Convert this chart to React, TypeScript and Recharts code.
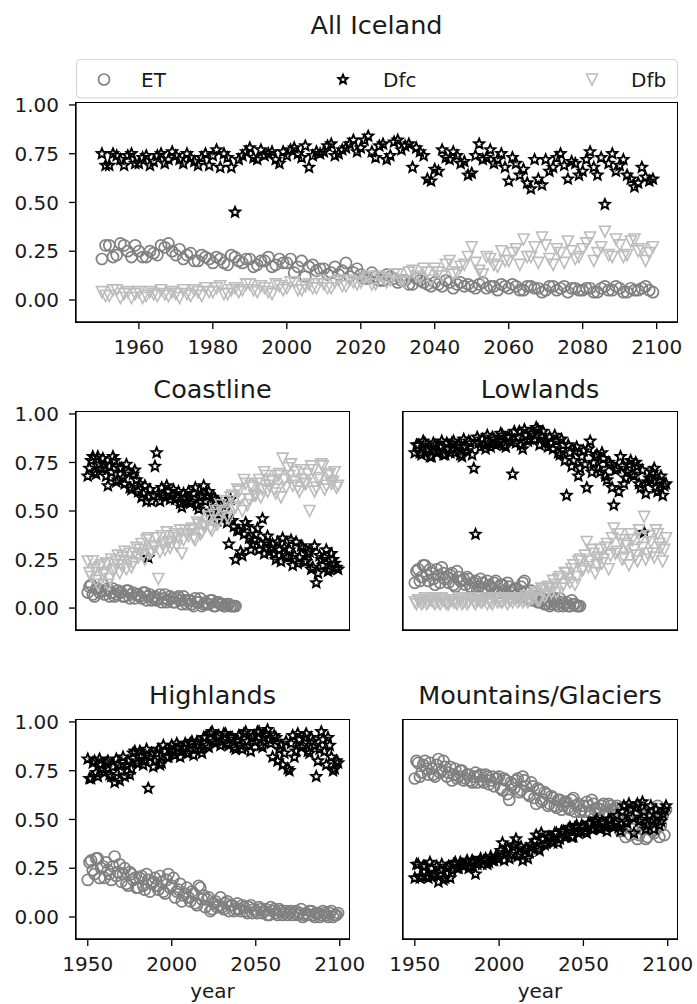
import React from 'react';
import { ScatterChart, Scatter, XAxis, YAxis } from 'recharts';

// x positions: one ensemble member on even years, the other on odd years
const YEARS_EVEN = [
  1950, 1952, 1954, 1956, 1958, 1960, 1962, 1964, 1966, 1968,
  1970, 1972, 1974, 1976, 1978, 1980, 1982, 1984, 1986, 1988,
  1990, 1992, 1994, 1996, 1998, 2000, 2002, 2004, 2006, 2008,
  2010, 2012, 2014, 2016, 2018, 2020, 2022, 2024, 2026, 2028,
  2030, 2032, 2034, 2036, 2038, 2040, 2042, 2044, 2046, 2048,
  2050, 2052, 2054, 2056, 2058, 2060, 2062, 2064, 2066, 2068,
  2070, 2072, 2074, 2076, 2078, 2080, 2082, 2084, 2086, 2088,
  2090, 2092, 2094, 2096, 2098,
];
const YEARS_ODD = [
  1951, 1953, 1955, 1957, 1959, 1961, 1963, 1965, 1967, 1969,
  1971, 1973, 1975, 1977, 1979, 1981, 1983, 1985, 1987, 1989,
  1991, 1993, 1995, 1997, 1999, 2001, 2003, 2005, 2007, 2009,
  2011, 2013, 2015, 2017, 2019, 2021, 2023, 2025, 2027, 2029,
  2031, 2033, 2035, 2037, 2039, 2041, 2043, 2045, 2047, 2049,
  2051, 2053, 2055, 2057, 2059, 2061, 2063, 2065, 2067, 2069,
  2071, 2073, 2075, 2077, 2079, 2081, 2083, 2085, 2087, 2089,
  2091, 2093, 2095, 2097, 2099,
];

const TOP_TICKS = [1960, 1980, 2000, 2020, 2040, 2060, 2080, 2100];
const BOTTOM_TICKS = [1950, 2000, 2050, 2100];
const Y_TICKS = [0, 0.25, 0.5, 0.75, 1];

// values are area fractions in percent
// All Iceland
const ALL_ET_A = [
  21, 28, 23, 28, 22, 25, 22, 24, 28, 29, 23, 21, 24, 20, 22,
  19, 21, 18, 22, 19, 21, 18, 20, 17, 21, 19, 14, 20, 17, 15,
  16, 14, 13, 19, 14, 13, 11, 12, 10, 12, 9, 10, 8, 10, 8,
  9, 7, 9, 8, 7, 7, 8, 6, 7, 8, 6, 7, 5, 7, 6,
  5, 7, 6, 4, 6, 5, 6, 4, 7, 5, 6, 4, 5, 6, 5,
];
const ALL_ET_B = [
  28, 22, 29, 25, 28, 22, 25, 23, 27, 25, 26, 23, 20, 23, 21,
  22, 19, 23, 20, 21, 17, 20, 22, 18, 19, 21, 17, 12, 18, 16,
  13, 17, 15, 12, 16, 11, 14, 10, 13, 11, 10, 8, 11, 9, 7,
  8, 10, 6, 9, 8, 6, 9, 7, 5, 7, 8, 5, 7, 6, 4,
  7, 5, 7, 6, 5, 6, 4, 6, 5, 7, 4, 6, 5, 7, 4,
];
const ALL_DFC_A = [
  75, 69, 74, 69, 75, 70, 74, 71, 75, 72, 74, 70, 73, 69, 75,
  74, 68, 73, 45, 74, 78, 72, 74, 76, 70, 74, 78, 73, 68, 76,
  76, 80, 75, 78, 82, 78, 84, 73, 80, 74, 82, 79, 68, 76, 62,
  67, 77, 72, 74, 71, 65, 80, 73, 70, 75, 61, 70, 67, 57, 62,
  72, 68, 75, 62, 70, 66, 76, 64, 49, 75, 69, 64, 58, 68, 61,
];
const ALL_DFC_B = [
  69, 75, 72, 74, 70, 73, 69, 74, 70, 76, 72, 75, 71, 73, 69,
  77, 75, 68, 72, 76, 73, 77, 75, 72, 76, 77, 75, 79, 74, 75,
  79, 74, 77, 80, 76, 82, 76, 79, 72, 81, 77, 80, 78, 74, 61,
  66, 73, 76, 70, 64, 74, 72, 77, 72, 68, 73, 64, 60, 72, 59,
  66, 73, 69, 71, 64, 72, 68, 73, 70, 66, 72, 62, 60, 63, 62,
];
const ALL_DFB_A = [
  4, 2, 5, 3, 1, 4, 2, 3, 5, 2, 3, 5, 2, 4, 6,
  4, 7, 3, 6, 5, 8, 4, 6, 3, 7, 6, 9, 5, 8, 6,
  8, 6, 10, 7, 9, 9, 12, 8, 11, 10, 13, 9, 15, 11, 14,
  16, 12, 20, 14, 18, 27, 15, 22, 18, 25, 20, 26, 31, 22, 19,
  28, 18, 24, 30, 21, 26, 32, 24, 35, 22, 28, 23, 31, 26, 24,
];
const ALL_DFB_B = [
  2, 5, 1, 4, 3, 1, 4, 2, 3, 4, 1, 3, 5, 2, 4,
  6, 3, 5, 4, 8, 5, 7, 4, 8, 5, 9, 5, 7, 6, 10,
  6, 9, 7, 10, 8, 11, 8, 12, 9, 13, 10, 14, 12, 16, 10,
  14, 18, 13, 17, 22, 19, 13, 21, 17, 20, 24, 18, 22, 27, 32,
  21, 26, 19, 25, 22, 29, 20, 27, 23, 31, 22, 30, 25, 20, 27,
];

// Coastline
const COAST_ET_A = [
  8, 12, 6, 10, 9, 7, 10, 8, 6, 9, 8, 6, 9, 7, 5,
  7, 5, 8, 6, 4, 6, 5, 3, 7, 4, 5, 3, 6, 2, 4,
  4, 2, 5, 3, 1, 3, 2, 4, 1, 3, 2, 1, 2, 1, 1,
];
const COAST_ET_B = [
  11, 7, 10, 8, 12, 9, 6, 10, 7, 8, 6, 9, 5, 8, 7,
  6, 8, 4, 7, 5, 4, 7, 5, 3, 6, 3, 5, 4, 6, 2,
  4, 1, 3, 5, 2, 2, 4, 1, 3, 2, 1, 2, 1, 1,
];
const COAST_DFC_A = [
  68, 76, 70, 78, 72, 74, 63, 70, 76, 66, 72, 64, 70, 61, 71,
  60, 57, 63, 26, 55, 73, 59, 62, 57, 60, 58, 56, 60, 52, 57,
  60, 55, 62, 51, 58, 55, 60, 48, 56, 52, 47, 54, 33, 45, 25,
  40, 27, 44, 36, 33, 38, 30, 46, 34, 29, 33, 25, 30, 36, 27,
  30, 22, 34, 26, 31, 24, 29, 21, 13, 27, 22, 30, 20, 25, 21,
];
const COAST_DFC_B = [
  72, 78, 69, 74, 77, 68, 73, 78, 65, 72, 67, 74, 62, 69, 66,
  64, 59, 55, 61, 58, 80, 55, 58, 63, 56, 61, 57, 54, 59, 55,
  54, 59, 53, 57, 63, 58, 50, 57, 45, 54, 50, 44, 56, 42, 40,
  29, 38, 42, 30, 35, 41, 33, 28, 37, 31, 28, 34, 24, 31, 26,
  35, 27, 23, 32, 24, 28, 20, 32, 18, 25, 26, 19, 28, 23, 20,
];
const COAST_DFB_A = [
  24, 16, 20, 12, 22, 18, 12, 25, 20, 27, 22, 29, 24, 21, 28,
  26, 33, 25, 36, 29, 31, 15, 37, 30, 34, 33, 38, 36, 28, 40,
  37, 41, 35, 43, 39, 42, 47, 40, 50, 45, 49, 55, 46, 58, 52,
  60, 50, 64, 56, 62, 58, 66, 61, 68, 63, 65, 59, 69, 77, 62,
  68, 63, 70, 60, 66, 64, 50, 71, 62, 67, 73, 63, 69, 65, 62,
];
const COAST_DFB_B = [
  18, 24, 14, 21, 17, 23, 15, 19, 24, 18, 26, 20, 28, 23, 31,
  30, 27, 35, 28, 32, 36, 29, 33, 39, 31, 37, 32, 40, 35, 38,
  40, 36, 44, 38, 42, 45, 41, 48, 43, 53, 50, 47, 57, 51, 61,
  56, 66, 53, 63, 58, 64, 57, 70, 60, 66, 61, 68, 57, 66, 72,
  74, 65, 62, 71, 64, 69, 73, 60, 66, 74, 61, 68, 64, 70, 63,
];

// Lowlands
const LOW_ET_A = [
  13, 20, 16, 22, 14, 18, 12, 17, 21, 15, 13, 18, 11, 16, 14,
  12, 15, 10, 14, 11, 13, 9, 12, 10, 14, 8, 12, 7, 11, 9,
  10, 6, 13, 8, 5, 4, 6, 3, 5, 2, 1, 4, 2, 5, 1,
  3, 1, 2, 1, 1,
];
const LOW_ET_B = [
  19, 14, 22, 17, 20, 15, 20, 13, 18, 16, 17, 12, 19, 14, 15,
  16, 11, 13, 9, 15, 10, 14, 11, 13, 8, 12, 9, 13, 8, 10,
  7, 11, 14, 5, 9, 6, 3, 5, 2, 4, 2, 5, 1, 3, 2,
  1, 4, 2, 1,
];
const LOW_DFC_A = [
  80, 84, 79, 85, 82, 78, 84, 81, 86, 79, 82, 85, 80, 84, 78,
  83, 86, 79, 38, 85, 87, 82, 85, 88, 84, 86, 89, 83, 88, 69,
  85, 91, 82, 89, 87, 90, 93, 84, 91, 86, 88, 82, 86, 79, 84,
  58, 80, 76, 83, 72, 81, 62, 86, 75, 79, 70, 77, 66, 74, 53,
  72, 78, 64, 70, 76, 68, 73, 62, 39, 65, 66, 72, 60, 68, 63,
];
const LOW_DFC_B = [
  84, 80, 86, 81, 78, 85, 80, 83, 79, 85, 80, 86, 83, 79, 87,
  81, 85, 72, 88, 83, 84, 89, 83, 87, 85, 90, 84, 88, 86, 91,
  88, 84, 92, 86, 90, 87, 92, 89, 85, 83, 85, 89, 80, 87, 76,
  84, 73, 81, 68, 78, 74, 82, 70, 78, 72, 80, 68, 75, 62, 71,
  60, 73, 67, 74, 69, 75, 64, 71, 59, 67, 70, 62, 66, 58, 64,
];
const LOW_DFB_A = [
  3, 4, 2, 5, 3, 4, 2, 3, 5, 3, 2, 4, 3, 5, 2,
  4, 3, 5, 2, 4, 3, 5, 4, 2, 5, 4, 3, 5, 4, 3,
  5, 4, 3, 6, 4, 5, 8, 4, 9, 7, 10, 14, 8, 16, 12,
  18, 13, 22, 16, 25, 20, 34, 24, 28, 22, 30, 25, 33, 27, 41,
  29, 35, 26, 32, 38, 30, 24, 36, 47, 28, 34, 26, 38, 31, 30,
];
const LOW_DFB_B = [
  2, 4, 3, 2, 4, 3, 5, 2, 4, 2, 4, 3, 2, 4, 3,
  2, 5, 3, 4, 3, 4, 2, 3, 5, 3, 3, 5, 2, 4, 5,
  3, 5, 4, 3, 6, 7, 4, 10, 6, 11, 8, 12, 15, 10, 18,
  15, 20, 12, 24, 19, 27, 21, 30, 18, 26, 23, 31, 20, 36, 28,
  38, 25, 33, 22, 35, 27, 40, 31, 25, 37, 28, 40, 33, 24, 36,
];

// Highlands
const HIGH_ET_A = [
  19, 29, 22, 30, 25, 20, 24, 19, 31, 23, 18, 25, 16, 22, 20,
  15, 21, 14, 19, 17, 20, 14, 18, 12, 22, 16, 10, 14, 8, 12,
  10, 13, 7, 16, 9, 5, 10, 4, 8, 6, 5, 7, 3, 6, 4,
  4, 6, 3, 5, 2, 3, 5, 2, 4, 1, 3, 2, 4, 1, 3,
  2, 1, 3, 2, 0, 2, 3, 1, 2, 0, 3, 1, 2, 0, 1,
];
const HIGH_ET_B = [
  28, 24, 30, 20, 26, 28, 22, 26, 21, 27, 22, 17, 23, 19, 15,
  20, 16, 22, 13, 18, 16, 21, 13, 19, 15, 20, 13, 17, 11, 15,
  8, 12, 6, 15, 11, 9, 3, 7, 5, 10, 4, 8, 6, 3, 7,
  3, 5, 2, 6, 4, 2, 4, 3, 1, 5, 4, 1, 3, 2, 1,
  3, 2, 1, 4, 1, 1, 3, 0, 2, 1, 2, 0, 3, 1, 2,
];
const HIGH_DFC_A = [
  81, 71, 80, 72, 78, 74, 80, 72, 69, 78, 75, 72, 80, 76, 85,
  79, 83, 80, 66, 84, 80, 86, 79, 85, 82, 88, 83, 87, 85, 89,
  84, 90, 86, 88, 84, 92, 87, 95, 89, 93, 90, 94, 88, 92, 86,
  93, 86, 95, 88, 92, 90, 95, 87, 94, 91, 82, 92, 86, 78, 90,
  75, 93, 85, 91, 88, 94, 84, 90, 72, 86, 91, 78, 88, 75, 80,
];
const HIGH_DFC_B = [
  71, 79, 74, 81, 76, 79, 73, 77, 81, 70, 82, 78, 73, 84, 79,
  85, 78, 86, 82, 77, 84, 78, 88, 82, 86, 85, 89, 82, 87, 84,
  89, 83, 90, 86, 92, 88, 94, 90, 92, 88, 94, 89, 92, 87, 91,
  88, 94, 90, 85, 93, 95, 88, 92, 96, 89, 93, 80, 88, 84, 76,
  89, 82, 94, 87, 92, 85, 92, 88, 80, 95, 85, 92, 82, 76, 79,
];

// Mountains/Glaciers
const MOUNT_ET_A = [
  71, 79, 74, 80, 73, 76, 72, 81, 75, 77, 74, 70, 76, 72, 75,
  71, 73, 69, 74, 72, 70, 73, 68, 72, 71, 72, 65, 70, 60, 68,
  70, 64, 72, 67, 62, 67, 58, 65, 60, 63, 58, 61, 56, 60, 57,
  59, 55, 61, 57, 54, 57, 59, 54, 58, 56, 55, 58, 53, 57, 54,
  57, 44, 55, 50, 42, 52, 40, 56, 45, 41, 50, 43, 57, 47, 42,
];
const MOUNT_ET_B = [
  80, 72, 78, 76, 79, 73, 78, 74, 80, 72, 77, 73, 71, 75, 70,
  73, 70, 72, 69, 73, 69, 72, 70, 67, 71, 66, 71, 63, 69, 66,
  71, 65, 70, 63, 69, 61, 66, 59, 64, 57, 62, 57, 60, 55, 59,
  56, 60, 54, 58, 55, 54, 57, 60, 55, 53, 57, 54, 58, 55, 56,
  47, 56, 41, 52, 45, 55, 42, 50, 40, 48, 44, 54, 41, 52, 55,
];
const MOUNT_DFC_A = [
  20, 27, 21, 26, 20, 25, 22, 18, 27, 20, 26, 24, 28, 25, 27,
  27, 25, 29, 22, 28, 27, 30, 28, 29, 31, 30, 38, 33, 30, 36,
  40, 32, 29, 35, 33, 36, 42, 34, 40, 38, 41, 38, 43, 40, 44,
  42, 46, 41, 47, 44, 46, 43, 48, 45, 50, 45, 48, 44, 50, 46,
  52, 44, 57, 48, 55, 43, 58, 50, 54, 47, 57, 45, 52, 49, 55,
];
const MOUNT_DFC_B = [
  27, 20, 26, 21, 28, 21, 26, 24, 19, 25, 20, 27, 25, 28, 26,
  29, 26, 28, 27, 30, 29, 27, 31, 29, 30, 34, 29, 35, 32, 37,
  31, 36, 34, 30, 37, 39, 35, 43, 37, 41, 39, 43, 38, 44, 41,
  45, 41, 46, 43, 47, 44, 48, 45, 49, 46, 49, 46, 50, 47, 48,
  46, 54, 49, 58, 51, 56, 49, 59, 45, 52, 50, 55, 47, 53, 57,
];

const X_DOMAIN: [number, number] = [1943, 2105.5];
const Y_DOMAIN: [number, number] = [-0.113, 1.01];

const ET_COLOR = '#808080';
const DFC_COLOR = '#000000';
const DFB_COLOR = '#bcbcbc';
const TEXT = '#1a1a1a';

const build = (a: number[], b: number[]) => [
  ...a.map((v, i) => ({ x: YEARS_EVEN[i], y: v / 100 })),
  ...b.map((v, i) => ({ x: YEARS_ODD[i], y: v / 100 })),
];

function starPoints(cx: number, cy: number, R: number, r: number) {
  const pts: string[] = [];
  for (let i = 0; i < 10; i++) {
    const ang = -Math.PI / 2 + (i * Math.PI) / 5;
    const rad = i % 2 === 0 ? R : r;
    pts.push(`${cx + rad * Math.cos(ang)},${cy + rad * Math.sin(ang)}`);
  }
  return pts.join(' ');
}

const CircleMark = ({ x, y, rad }: { x: number; y: number; rad: number }) => (
  <circle cx={x} cy={y} r={rad} fill="none" stroke={ET_COLOR} strokeWidth={1.7} />
);

const StarMark = ({ x, y, rad }: { x: number; y: number; rad: number }) => (
  <polygon points={starPoints(x, y, rad, rad * 0.45)} fill="none" stroke={DFC_COLOR} strokeWidth={1.9} />
);

const TriMark = ({ x, y, rad }: { x: number; y: number; rad: number }) => (
  <polygon
    points={`${x},${y + rad} ${x - rad},${y - rad} ${x + rad},${y - rad}`}
    fill="none"
    stroke={DFB_COLOR}
    strokeWidth={1.6}
  />
);

const MARKS: Record<string, any> = { ET: CircleMark, Dfc: StarMark, Dfb: TriMark };
const MARK_SIZE: Record<string, number> = { ET: 5.5, Dfc: 5.3, Dfb: 5.5 };

interface SeriesDef {
  name: string;
  a: number[];
  b: number[];
}

interface PanelProps {
  left: number;
  top: number;
  width: number;
  height: number;
  series: SeriesDef[];
  xTicks: number[];
  showXLabels: boolean;
  showYLabels: boolean;
  yearLabel?: boolean;
}

const axisLine = { stroke: '#000', strokeWidth: 1.3 };

function Panel({ left, top, width, height, series, xTicks, showXLabels, showYLabels, yearLabel }: PanelProps) {
  const MT = 10;
  const MR = 28; // room for the last tick label
  const YW = 76;
  const XH = 40;
  const MB = yearLabel ? 30 : 4;
  return (
    <div style={{ position: 'absolute', left: left - YW, top: top - MT }}>
      <ScatterChart
        width={YW + width + MR}
        height={MT + height + XH + MB}
        margin={{ top: MT, right: MR, bottom: MB, left: 0 }}
      >
        <XAxis
          type="number"
          dataKey="x"
          domain={X_DOMAIN}
          allowDataOverflow
          ticks={xTicks}
          height={XH}
          tickSize={7}
          tickMargin={11}
          axisLine={axisLine}
          tickLine={axisLine}
          tick={showXLabels ? { fill: TEXT, fontSize: 20 } : false}
          label={
            yearLabel
              ? { value: 'year', position: 'bottom', offset: 5, fill: TEXT, fontSize: 20 }
              : undefined
          }
        />
        <YAxis
          type="number"
          dataKey="y"
          domain={Y_DOMAIN}
          allowDataOverflow
          ticks={Y_TICKS}
          width={YW}
          tickSize={7}
          tickMargin={10}
          axisLine={axisLine}
          tickLine={axisLine}
          tickFormatter={(v: number) => v.toFixed(2)}
          tick={showYLabels ? { fill: TEXT, fontSize: 20 } : false}
        />
        {series.map((s) => {
          const Mark = MARKS[s.name];
          const rad = MARK_SIZE[s.name];
          return (
            <Scatter
              key={s.name}
              name={s.name}
              data={build(s.a, s.b)}
              shape={(p: any) => <Mark x={p.cx} y={p.cy} rad={rad} />}
              isAnimationActive={false}
            />
          );
        })}
      </ScatterChart>
      {/* axes frame */}
      <div
        style={{
          position: 'absolute',
          left: YW - 0.65,
          top: MT - 0.65,
          width: width + 1.3,
          height: height + 1.3,
          boxSizing: 'border-box',
          border: '1.3px solid #000',
          pointerEvents: 'none',
        }}
      />
    </div>
  );
}

const TITLE_SIZE = 25.5;

export default function App() {
  return (
    <div
      style={{
        position: 'absolute',
        left: 0,
        top: 0,
        width: 697,
        height: 1004,
        background: '#fff',
        fontFamily: '"DejaVu Sans", sans-serif',
        overflow: 'hidden',
      }}
    >
      <Panel
        left={76}
        top={103}
        width={601}
        height={219}
        xTicks={TOP_TICKS}
        showXLabels
        showYLabels
        series={[
          { name: 'ET', a: ALL_ET_A, b: ALL_ET_B },
          { name: 'Dfc', a: ALL_DFC_A, b: ALL_DFC_B },
          { name: 'Dfb', a: ALL_DFB_A, b: ALL_DFB_B },
        ]}
      />
      <Panel
        left={76}
        top={412}
        width={273}
        height={218}
        xTicks={BOTTOM_TICKS}
        showXLabels={false}
        showYLabels
        series={[
          { name: 'ET', a: COAST_ET_A, b: COAST_ET_B },
          { name: 'Dfc', a: COAST_DFC_A, b: COAST_DFC_B },
          { name: 'Dfb', a: COAST_DFB_A, b: COAST_DFB_B },
        ]}
      />
      <Panel
        left={403}
        top={412}
        width={274}
        height={218}
        xTicks={BOTTOM_TICKS}
        showXLabels={false}
        showYLabels={false}
        series={[
          { name: 'ET', a: LOW_ET_A, b: LOW_ET_B },
          { name: 'Dfc', a: LOW_DFC_A, b: LOW_DFC_B },
          { name: 'Dfb', a: LOW_DFB_A, b: LOW_DFB_B },
        ]}
      />
      <Panel
        left={76}
        top={720}
        width={273}
        height={219}
        xTicks={BOTTOM_TICKS}
        showXLabels
        showYLabels
        yearLabel
        series={[
          { name: 'ET', a: HIGH_ET_A, b: HIGH_ET_B },
          { name: 'Dfc', a: HIGH_DFC_A, b: HIGH_DFC_B },
        ]}
      />
      <Panel
        left={403}
        top={720}
        width={274}
        height={219}
        xTicks={BOTTOM_TICKS}
        showXLabels
        showYLabels={false}
        yearLabel
        series={[
          { name: 'ET', a: MOUNT_ET_A, b: MOUNT_ET_B },
          { name: 'Dfc', a: MOUNT_DFC_A, b: MOUNT_DFC_B },
        ]}
      />

      {/* titles and legend */}
      <svg
        width={697}
        height={1004}
        style={{ position: 'absolute', left: 0, top: 0, pointerEvents: 'none' }}
      >
        <text x={376.5} y={34} textAnchor="middle" fontSize={TITLE_SIZE} fill={TEXT}>All Iceland</text>
        <text x={212.5} y={398} textAnchor="middle" fontSize={TITLE_SIZE} fill={TEXT}>Coastline</text>
        <text x={540} y={398} textAnchor="middle" fontSize={TITLE_SIZE} fill={TEXT}>Lowlands</text>
        <text x={212.5} y={704} textAnchor="middle" fontSize={TITLE_SIZE} fill={TEXT}>Highlands</text>
        <text x={540} y={704} textAnchor="middle" fontSize={TITLE_SIZE} fill={TEXT}>Mountains/Glaciers</text>

        <rect x={76.5} y={59.5} width={601} height={38.5} rx={4} fill="#fff" stroke="#d6d6d6" strokeWidth={1.2} />
        <CircleMark x={104} y={79.5} rad={5.5} />
        <text x={141} y={87} fontSize={20} fill={TEXT}>ET</text>
        <StarMark x={343} y={79.5} rad={4.8} />
        <text x={383} y={87} fontSize={20} fill={TEXT}>Dfc</text>
        <TriMark x={592} y={79.5} rad={5.5} />
        <text x={631} y={87} fontSize={20} fill={TEXT}>Dfb</text>
      </svg>
    </div>
  );
}
